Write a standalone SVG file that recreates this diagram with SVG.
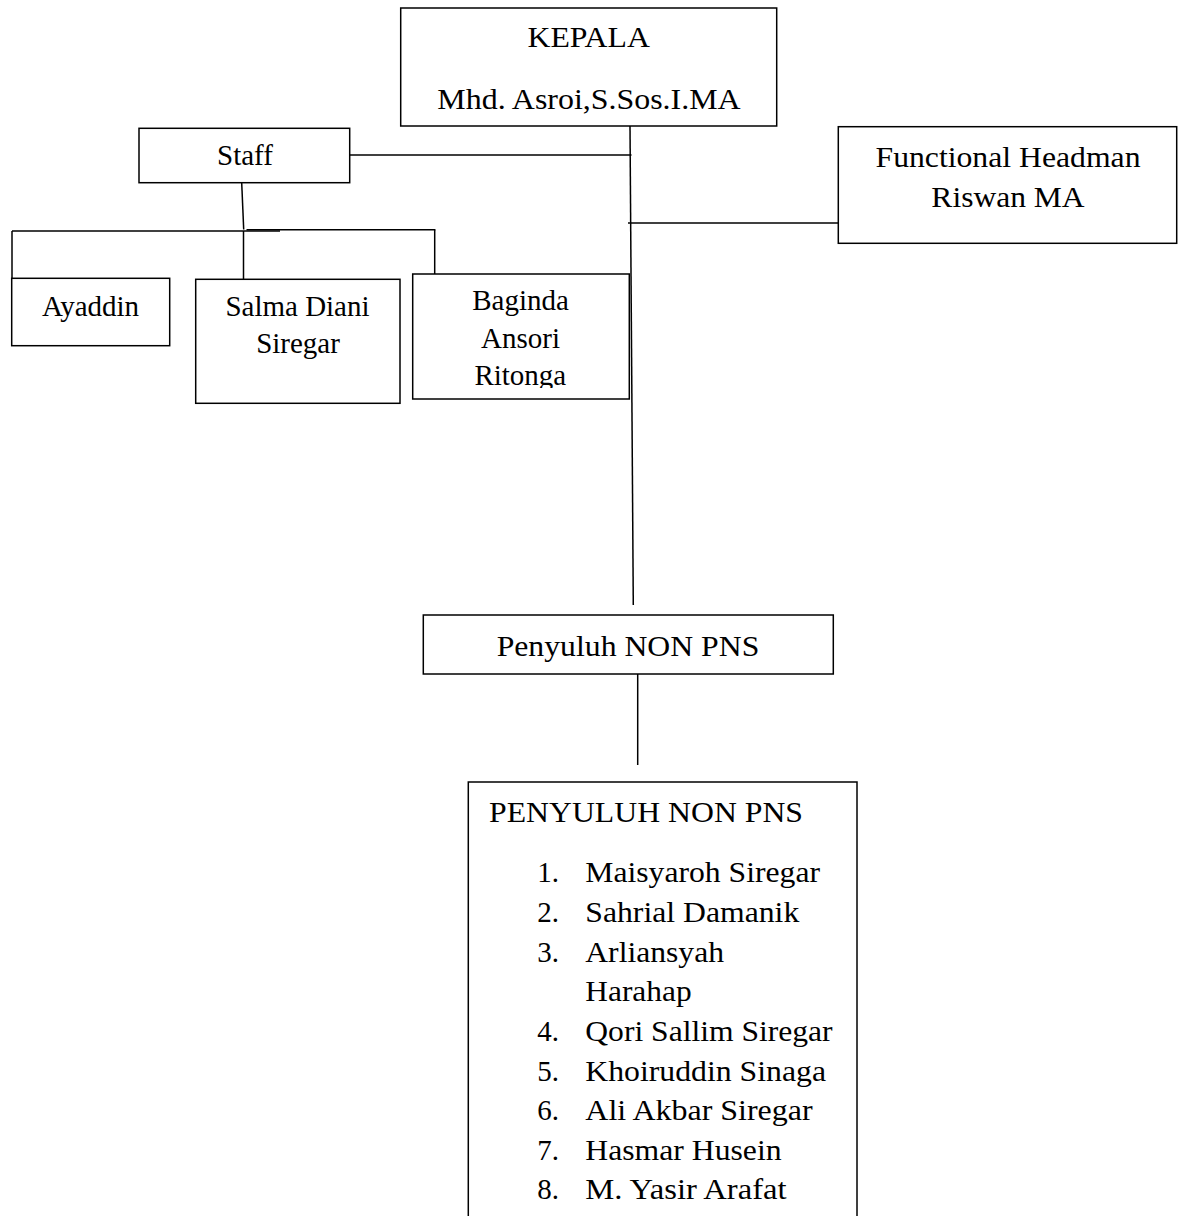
<svg xmlns="http://www.w3.org/2000/svg" width="1179" height="1216" viewBox="0 0 1179 1216">
<style>
.box{fill:#fff;stroke:#000;stroke-width:1.5}
.ln{stroke:#000;stroke-width:1.5;fill:none}
.t{font-family:'Liberation Serif',serif;font-size:29px;fill:#000}
.c{text-anchor:middle}
</style>
<defs>
<clipPath id="clipBag"><rect x="413" y="274" width="217" height="114"/></clipPath>
</defs>
<rect width="1179" height="1216" fill="#fff"/>
<g id="connectors">
<line class="ln" x1="630" y1="126" x2="633.3" y2="605"/>
<line class="ln" x1="349.7" y1="155" x2="631.5" y2="155"/>
<line class="ln" x1="628" y1="223" x2="838.3" y2="223"/>
<line class="ln" x1="241.7" y1="182.7" x2="243.7" y2="229.5"/>
<line class="ln" x1="12" y1="231" x2="280" y2="231"/>
<line class="ln" x1="246.5" y1="229.7" x2="435.4" y2="229.7"/>
<line class="ln" x1="12" y1="231" x2="12" y2="278.3"/>
<line class="ln" x1="243.5" y1="231" x2="243.5" y2="279.3"/>
<line class="ln" x1="434.7" y1="229.7" x2="434.7" y2="274"/>
<line class="ln" x1="637.7" y1="674" x2="637.7" y2="765"/>
</g>
<g class="t" font-family="Liberation Serif, serif">
<g id="kepala">
<rect class="box" x="400.7" y="8" width="376" height="118"/>
<text class="c" x="588.7" y="46.7" textLength="122.3" lengthAdjust="spacingAndGlyphs">KEPALA</text>
<text class="c" x="589" y="109" textLength="303.3" lengthAdjust="spacingAndGlyphs">Mhd. Asroi,S.Sos.I.MA</text>
</g>
<g id="staff">
<rect class="box" x="139" y="128.3" width="210.7" height="54.4"/>
<text class="c" x="245" y="165">Staff</text>
</g>
<g id="functional">
<rect class="box" x="838.3" y="126.7" width="338.4" height="116.6"/>
<text class="c" x="1008" y="166.7" textLength="265" lengthAdjust="spacingAndGlyphs">Functional Headman</text>
<text class="c" x="1008" y="206.7" textLength="153.3" lengthAdjust="spacingAndGlyphs">Riswan MA</text>
</g>
<g id="ayaddin">
<rect class="box" x="11.7" y="278.3" width="158" height="67.4"/>
<text class="c" x="90.5" y="316">Ayaddin</text>
</g>
<g id="salma">
<rect class="box" x="195.7" y="279.3" width="204.3" height="124"/>
<text class="c" x="297.5" y="316" textLength="144" lengthAdjust="spacingAndGlyphs">Salma Diani</text>
<text class="c" x="298" y="353.3">Siregar</text>
</g>
<g id="baginda">
<rect class="box" x="412.7" y="274" width="216.6" height="125"/>
<g clip-path="url(#clipBag)">
<text class="c" x="520.5" y="310">Baginda</text>
<text class="c" x="520.5" y="348.3">Ansori</text>
<text class="c" x="520.3" y="385">Ritonga</text>
</g>
</g>
<g id="penyuluh">
<rect class="box" x="423.3" y="615" width="410" height="59"/>
<text class="c" x="628" y="656" textLength="262.7" lengthAdjust="spacingAndGlyphs">Penyuluh NON PNS</text>
</g>
<g id="penyuluh-list">
<rect class="box" x="468.3" y="782" width="388.7" height="445"/>
<text x="489" y="821.7" textLength="314" lengthAdjust="spacingAndGlyphs">PENYULUH NON PNS</text>
<text x="537.3" y="881.7">1.</text>
<text x="585.3" y="881.7" textLength="234.7" lengthAdjust="spacingAndGlyphs">Maisyaroh Siregar</text>
<text x="537.3" y="922">2.</text>
<text x="585.3" y="922" textLength="214" lengthAdjust="spacingAndGlyphs">Sahrial Damanik</text>
<text x="537.3" y="961.7">3.</text>
<text x="585.3" y="961.7" textLength="138.7" lengthAdjust="spacingAndGlyphs">Arliansyah</text>
<text x="585.3" y="1000.7" textLength="106.3" lengthAdjust="spacingAndGlyphs">Harahap</text>
<text x="537.3" y="1040.7">4.</text>
<text x="585.3" y="1040.7" textLength="247.3" lengthAdjust="spacingAndGlyphs">Qori Sallim Siregar</text>
<text x="537.3" y="1080.7">5.</text>
<text x="585.3" y="1080.7" textLength="240.7" lengthAdjust="spacingAndGlyphs">Khoiruddin Sinaga</text>
<text x="537.3" y="1120">6.</text>
<text x="585.3" y="1120" textLength="227.3" lengthAdjust="spacingAndGlyphs">Ali Akbar Siregar</text>
<text x="537.3" y="1160">7.</text>
<text x="585.3" y="1160" textLength="196.3" lengthAdjust="spacingAndGlyphs">Hasmar Husein</text>
<text x="537.3" y="1199.3">8.</text>
<text x="585.3" y="1199.3" textLength="201.3" lengthAdjust="spacingAndGlyphs">M. Yasir Arafat</text>
</g>
</g>
</svg>
